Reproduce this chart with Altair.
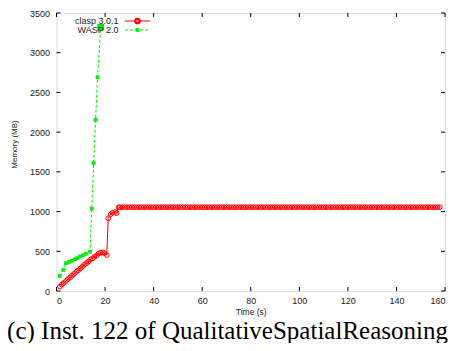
import altair as alt
import pandas as pd

# ---- data ----
clasp_t = [1.4, 2.2, 3.0, 3.9, 4.7, 5.6, 6.4, 7.2, 8.1, 8.9, 9.8, 10.6, 11.4, 12.3,
           13.1, 13.9, 14.8, 15.6, 16.5, 17.3, 18.2, 19.0, 19.7, 20.7, 21.3, 22.3,
           23.1, 24.2, 24.8, 25.6,
           26, 27, 28, 29, 30, 31, 32, 33, 34, 35, 36, 37, 38, 39,
           40, 41, 42, 43, 44, 45, 46, 47, 48, 49, 50, 51, 52, 53,
           54, 55, 56, 57, 58, 59, 60, 61, 62, 63, 64, 65, 66, 67,
           68, 69, 70, 71, 72, 73, 74, 75, 76, 77, 78, 79, 80, 81,
           82, 83, 84, 85, 86, 87, 88, 89, 90, 91, 92, 93, 94, 95,
           96, 97, 98, 99, 100, 101, 102, 103, 104, 105, 106, 107, 108, 109,
           110, 111, 112, 113, 114, 115, 116, 117, 118, 119, 120, 121, 122, 123,
           124, 125, 126, 127, 128, 129, 130, 131, 132, 133, 134, 135, 136, 137,
           138, 139, 140, 141, 142, 143, 144, 145, 146, 147, 148, 149, 150, 151,
           152, 153, 154, 155, 156, 157, 157.9]
clasp_m = [55, 80, 100, 125, 150, 170, 195, 215, 240, 260, 285, 305, 330, 350,
           370, 395, 410, 430, 445, 470, 482, 487, 478, 453, 915, 966,
           986, 995, 980, 1054,
           1055, 1055, 1055, 1055, 1055, 1055, 1055, 1055, 1055, 1055, 1055, 1055, 1055, 1055,
           1055, 1055, 1055, 1055, 1055, 1055, 1055, 1055, 1055, 1055, 1055, 1055, 1055, 1055,
           1055, 1055, 1055, 1055, 1055, 1055, 1055, 1055, 1055, 1055, 1055, 1055, 1055, 1055,
           1055, 1055, 1055, 1055, 1055, 1055, 1055, 1055, 1055, 1055, 1055, 1055, 1055, 1055,
           1055, 1055, 1055, 1055, 1055, 1055, 1055, 1055, 1055, 1055, 1055, 1055, 1055, 1055,
           1055, 1055, 1055, 1055, 1055, 1055, 1055, 1055, 1055, 1055, 1055, 1055, 1055, 1055,
           1055, 1055, 1055, 1055, 1055, 1055, 1055, 1055, 1055, 1055, 1055, 1055, 1055, 1055,
           1055, 1055, 1055, 1055, 1055, 1055, 1055, 1055, 1055, 1055, 1055, 1055, 1055, 1055,
           1055, 1055, 1055, 1055, 1055, 1055, 1055, 1055, 1055, 1055, 1055, 1055, 1055, 1055,
           1055, 1055, 1055, 1055, 1055, 1055, 1055]

wasp_t = [1.3, 2.8, 3.9, 5.1, 6.3, 7.6, 8.6, 9.7, 11.0, 12.1, 13.8, 14.5, 15.3,
          16.1, 16.9, 18.2]
wasp_m = [190, 265, 350, 365, 380, 400, 415, 435, 450, 470, 495, 1035, 1610,
          2155, 2690, 3320]

series_names = ["clasp 3.0.1", "WASP 2.0"]
x_ticks = [0, 20, 40, 60, 80, 100, 120, 140, 160]
y_ticks = [0, 500, 1000, 1500, 2000, 2500, 3000, 3500]
x_title = "Time (s)"
y_title = "Memory (MB)"
caption = "(c) Inst. 122 of QualitativeSpatialReasoning"

RED = "#ff0000"
GREEN = "#00ee00"
W, H = 388.5, 278

clasp = pd.DataFrame({"t": clasp_t, "m": clasp_m})
wasp = pd.DataFrame({"t": wasp_t, "m": wasp_m})
wasp_last = wasp.tail(1)
xt = pd.DataFrame({"t": x_ticks})
yt = pd.DataFrame({"m": y_ticks})

xs = alt.Scale(domain=[0, 160], nice=False, zero=False)
ys = alt.Scale(domain=[0, 3500], nice=False)

X = alt.X("t:Q", scale=xs, title=x_title,
          axis=alt.Axis(values=x_ticks, ticks=False, domain=False, grid=False,
                        format="d", labelOverlap=False,
                        labelPadding=5, labelFontSize=9, labelColor="#222",
                        labelFont="Liberation Sans", titleFont="Liberation Sans",
                        titleFontSize=8.5, titleFontWeight="normal", titleColor="#222",
                        titlePadding=2))
Y = alt.Y("m:Q", scale=ys, title=y_title,
          axis=alt.Axis(values=y_ticks, ticks=False, domain=False, grid=False,
                        format="d", labelOverlap=False,
                        labelPadding=7, labelFontSize=9, labelColor="#222",
                        labelFont="Liberation Sans", titleFont="Liberation Sans",
                        titleFontSize=8, titleFontWeight="normal", titleColor="#222",
                        titleX=-42, titleY=131, titleAngle=-90,
                        titleAlign="center", titleBaseline="middle"))

base_c = alt.Chart(clasp)
base_w = alt.Chart(wasp)

clasp_line = base_c.mark_line(color=RED, strokeWidth=1).encode(x=X, y=Y)
clasp_pts = base_c.mark_point(color=RED, filled=False, size=22, strokeWidth=1,
                              opacity=1).encode(x=X, y=Y)
wasp_line = base_w.mark_line(color=GREEN, strokeWidth=1, strokeDash=[3, 2]).encode(
    x=X, y=Y)
wasp_pts = base_w.mark_point(color=GREEN, filled=True, shape="square", size=14,
                             opacity=1).encode(x=X, y=Y)
wasp_end = alt.Chart(wasp_last).mark_point(color=GREEN, filled=True, shape="square",
                                           size=45, opacity=1).encode(x=X, y=Y)

# inward mirrored ticks
tb = alt.Chart(xt).mark_rule(color="black", strokeWidth=1).encode(
    x=X, y=alt.value(H), y2=alt.value(H - 4))
tt = alt.Chart(xt).mark_rule(color="black", strokeWidth=1).encode(
    x=X, y=alt.value(0), y2=alt.value(4))
tl = alt.Chart(yt).mark_rule(color="black", strokeWidth=1).encode(
    y=Y, x=alt.value(0), x2=alt.value(4))
tr = alt.Chart(yt).mark_rule(color="black", strokeWidth=1).encode(
    y=Y, x=alt.value(W), x2=alt.value(W - 4))

# legend (inside, top-left)
leg_df = pd.DataFrame({"name": series_names})
leg_text1 = alt.Chart(leg_df.head(1)).mark_text(
    align="right", baseline="middle", fontSize=9, font="Liberation Sans",
    color="#222").encode(text="name:N", x=alt.value(62), y=alt.value(8))
leg_text2 = alt.Chart(leg_df.tail(1)).mark_text(
    align="right", baseline="middle", fontSize=9, font="Liberation Sans",
    color="#222").encode(text="name:N", x=alt.value(62), y=alt.value(17))
leg_l1 = alt.Chart(leg_df.head(1)).mark_rule(color=RED, strokeWidth=1).encode(
    x=alt.value(68.5), x2=alt.value(93.5), y=alt.value(8))
leg_p1 = alt.Chart(leg_df.head(1)).mark_point(color=RED, filled=False, size=22,
                                               opacity=1).encode(
    x=alt.value(81), y=alt.value(8))
leg_l2 = alt.Chart(leg_df.tail(1)).mark_rule(color=GREEN, strokeWidth=1,
                                              strokeDash=[3, 2]).encode(
    x=alt.value(68.5), x2=alt.value(93.5), y=alt.value(17))
leg_p2 = alt.Chart(leg_df.tail(1)).mark_point(color=GREEN, filled=True, shape="square",
                                               size=14, opacity=1).encode(
    x=alt.value(81), y=alt.value(17))

cap = alt.Chart(pd.DataFrame({"c": [caption]})).mark_text(
    align="center", baseline="alphabetic", fontSize=25, font="Liberation Serif",
    color="black").encode(text="c:N", x=alt.value(171), y=alt.value(326))

chart = alt.layer(
    clasp_line, wasp_line, clasp_pts, wasp_pts, wasp_end,
    tb, tt, tl, tr,
    leg_text1, leg_text2, leg_l1, leg_l2, leg_p1, leg_p2,
    cap,
).properties(
    width=W, height=H,
    autosize=alt.AutoSizeParams(type="none"),
    padding={"left": 48.5, "top": 5, "right": 3, "bottom": 52},
).configure_view(stroke="black", strokeWidth=1).configure(background="white")

chart.save("out.html", embed_options={"renderer": "svg", "actions": False})
